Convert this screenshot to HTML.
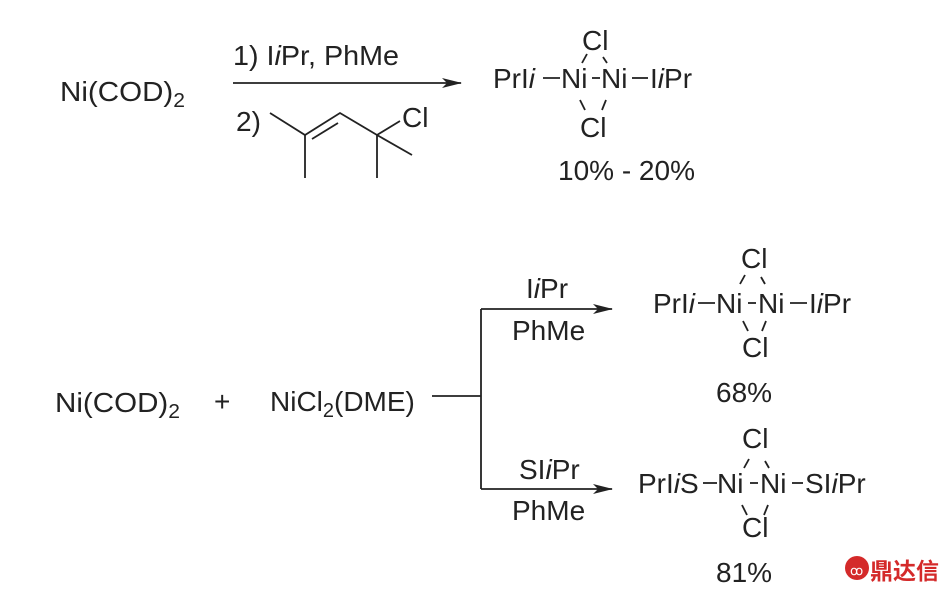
<!DOCTYPE html>
<html><head><meta charset="utf-8"><style>
html,body{margin:0;padding:0;background:#fff}
svg{display:block}
text{font-family:"Liberation Sans",Arial,sans-serif;font-size:28px;fill:#222}
.s{font-size:20px}
</style></head><body>
<svg width="948" height="591" viewBox="0 0 948 591" xmlns="http://www.w3.org/2000/svg">
<defs><marker id="a" markerWidth="20" markerHeight="10" refX="19" refY="5" orient="auto" markerUnits="userSpaceOnUse"><path d="M0,0 L20,5 L0,10 L5,5 Z" fill="#222"/></marker></defs>
<g stroke="#222" stroke-width="1.8" fill="none">
<line x1="233" y1="83" x2="461" y2="83" marker-end="url(#a)"/>
<polyline points="270,113 305,135 340,113 377,135 400,121"/>
<line x1="312" y1="139" x2="338" y2="123"/>
<line x1="305" y1="135" x2="305" y2="178"/>
<line x1="377" y1="135" x2="377" y2="178"/>
<line x1="377" y1="135" x2="412" y2="155"/>
<line x1="582" y1="63" x2="587" y2="54"/><line x1="603" y1="57" x2="607" y2="63"/>
<line x1="580" y1="100" x2="585" y2="110"/><line x1="606" y1="100" x2="602" y2="110"/>
<line x1="543" y1="78" x2="560" y2="78"/><line x1="592" y1="78" x2="600" y2="78"/><line x1="632" y1="78" x2="648" y2="78"/>
<line x1="432" y1="396" x2="481" y2="396"/>
<line x1="481" y1="309" x2="481" y2="489"/>
<line x1="481" y1="309" x2="612" y2="309" marker-end="url(#a)"/>
<line x1="481" y1="489" x2="612" y2="489" marker-end="url(#a)"/>
<line x1="740" y1="284" x2="745" y2="275"/><line x1="761" y1="277" x2="765" y2="284"/>
<line x1="743" y1="321" x2="748" y2="331"/><line x1="766" y1="321" x2="762" y2="331"/>
<line x1="698" y1="303" x2="715" y2="303"/><line x1="748" y1="303" x2="756" y2="303"/><line x1="790" y1="303" x2="807" y2="303"/>
<line x1="744" y1="468" x2="749" y2="459"/><line x1="765" y1="461" x2="769" y2="468"/>
<line x1="742" y1="505" x2="747" y2="515"/><line x1="768" y1="505" x2="764" y2="515"/>
<line x1="703" y1="483" x2="717" y2="483"/><line x1="750" y1="483" x2="758" y2="483"/><line x1="792" y1="483" x2="803" y2="483"/>
</g>
<text x="60" y="101" textLength="125" lengthAdjust="spacingAndGlyphs">Ni(COD)<tspan class="s" dy="6">2</tspan></text>
<text x="233" y="65" textLength="166" lengthAdjust="spacingAndGlyphs">1) I<tspan font-style="italic">i</tspan>Pr, PhMe</text>
<text x="236" y="131">2)</text>
<text x="402" y="127">Cl</text>
<text x="582" y="50">Cl</text>
<text y="88"><tspan x="493">PrI<tspan font-style="italic">i</tspan></tspan><tspan x="561">Ni</tspan><tspan x="601">Ni</tspan><tspan x="650">I<tspan font-style="italic">i</tspan>Pr</tspan></text>
<text x="580" y="137">Cl</text>
<text x="558" y="180">10% - 20%</text>

<text x="55" y="412" textLength="125" lengthAdjust="spacingAndGlyphs">Ni(COD)<tspan class="s" dy="6">2</tspan></text>
<text x="214" y="411">+</text>
<text x="270" y="411">NiCl<tspan class="s" dy="6">2</tspan><tspan dy="-6">(DME)</tspan></text>
<text x="526" y="298">I<tspan font-style="italic">i</tspan>Pr</text>
<text x="512" y="340">PhMe</text>
<text x="519" y="479">SI<tspan font-style="italic">i</tspan>Pr</text>
<text x="512" y="520">PhMe</text>

<text x="741" y="268">Cl</text>
<text y="313"><tspan x="653">PrI<tspan font-style="italic">i</tspan></tspan><tspan x="716">Ni</tspan><tspan x="758">Ni</tspan><tspan x="809">I<tspan font-style="italic">i</tspan>Pr</tspan></text>
<text x="742" y="357">Cl</text>
<text x="716" y="402">68%</text>

<text x="742" y="448">Cl</text>
<text y="493"><tspan x="638">PrI<tspan font-style="italic">i</tspan>S</tspan><tspan x="717">Ni</tspan><tspan x="760">Ni</tspan><tspan x="805">SI<tspan font-style="italic">i</tspan>Pr</tspan></text>
<text x="742" y="537">Cl</text>
<text x="716" y="582">81%</text>

<circle cx="857" cy="568" r="12" fill="#d42a2a"/>
<text x="850" y="575" style="font-size:13px;fill:#fff">ꝏ</text>
<text x="870" y="579" style="font-family:'Noto Sans CJK SC',sans-serif;font-size:23px;font-weight:bold;fill:#d42a2a">鼎达信</text>
</svg>
</body></html>
